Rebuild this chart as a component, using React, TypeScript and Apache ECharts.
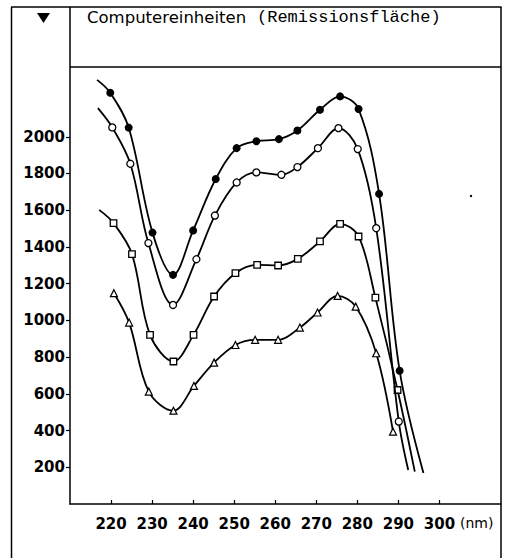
import React, { useEffect, useRef } from "react";
import * as echarts from "echarts";

// Wavelength (nm) and remission-area values
const filledNm = [219.8, 224.3, 230.1, 235.1, 240.0, 245.5, 250.6, 255.4, 260.9, 265.4, 270.9, 275.8, 280.3, 285.3, 290.3];
const filledVal = [2240, 2050, 1478, 1248, 1490, 1770, 1938, 1976, 1987, 2034, 2147, 2220, 2151, 1689, 726];
const filledStart = [216.6, 2310];
const filledEnd = [296.1, 169];

const circleNm = [220.3, 224.7, 229.1, 235.1, 240.8, 245.3, 250.6, 255.4, 261.5, 265.4, 270.4, 275.4, 280.1, 284.6, 290.1];
const circleVal = [2051, 1853, 1421, 1084, 1333, 1571, 1751, 1806, 1793, 1835, 1938, 2047, 1933, 1502, 449];
const circleStart = [216.8, 2156];
const circleEnd = [292.4, 185];

const squareNm = [220.6, 225.1, 229.5, 235.2, 240.1, 245.1, 250.3, 255.6, 260.7, 265.5, 270.9, 275.8, 280.3, 284.4, 289.8];
const squareVal = [1530, 1361, 921, 776, 921, 1130, 1257, 1302, 1299, 1335, 1430, 1526, 1457, 1124, 621];
const squareStart = [217.1, 1602];
const squareEnd = [294.0, 176];

const triangleNm = [220.7, 224.4, 229.2, 235.2, 240.2, 245.1, 250.3, 255.1, 260.7, 266.0, 270.3, 275.2, 279.6, 284.6, 288.7];
const triangleVal = [1148, 988, 612, 508, 643, 770, 866, 894, 894, 961, 1043, 1133, 1075, 821, 394];

const xTicks = [220, 230, 240, 250, 260, 270, 280, 290, 300];
const yTicks = [200, 400, 600, 800, 1000, 1200, 1400, 1600, 1800, 2000];

const titleMain = "Computereinheiten";
const titleMono = "(Remissionsfläche)";
const unitLabel = "(nm)";

function buildData(xs: number[], ys: number[], start?: number[], end?: number[]) {
  const d: any[] = xs.map((x, i) => ({ value: [x, ys[i]] }));
  if (start) d.unshift({ value: start, symbol: "none" });
  if (end) d.push({ value: end, symbol: "none" });
  return d;
}

export default function App() {
  const ref = useRef<HTMLDivElement>(null);
  useEffect(() => {
    if (!ref.current) return;
    const chart = echarts.init(ref.current, null, { renderer: "svg", width: 509, height: 558 });
    const lineStyle = { color: "#000", width: 1.8 };
    const stroke = { stroke: "#000", lineWidth: 1.5 };
    const labelFont = { color: "#000", fontFamily: "DejaVu Sans", fontSize: 15, fontWeight: "bold" as const };
    chart.setOption({
      animation: false,
      backgroundColor: "#fff",
      grid: { left: 70, right: 8, top: 67, bottom: 54, outerBoundsMode: "none", containLabel: false },
      xAxis: {
        type: "value",
        min: 210,
        max: 315,
        axisLine: { show: true, lineStyle: { color: "#000", width: 1.5 } },
        axisTick: { show: true, inside: true, length: 4, lineStyle: { color: "#000", width: 1.2 }, customValues: xTicks },
        axisLabel: { ...labelFont, margin: 12, customValues: xTicks, formatter: (v: number) => String(v) },
        splitLine: { show: false },
      },
      yAxis: {
        type: "value",
        min: 0,
        max: 2380,
        axisLine: { show: true, lineStyle: { color: "#000", width: 1.5 } },
        axisTick: { show: true, inside: false, length: 4, lineStyle: { color: "#000", width: 1.2 }, customValues: yTicks },
        axisLabel: { ...labelFont, margin: 5, customValues: yTicks, formatter: (v: number) => String(v) },
        splitLine: { show: false },
      },
      series: [
        {
          type: "line",
          smooth: 0.35,
          data: buildData(filledNm, filledVal, filledStart, filledEnd),
          symbol: "circle",
          symbolSize: 8,
          lineStyle,
          itemStyle: { color: "#000" },
          z: 4,
        },
        {
          type: "line",
          smooth: 0.35,
          data: buildData(circleNm, circleVal, circleStart, circleEnd),
          symbol: "circle",
          symbolSize: 7,
          lineStyle,
          itemStyle: { color: "#fff", borderColor: "#000", borderWidth: 1.3 },
          z: 3,
        },
        {
          type: "line",
          smooth: 0.35,
          data: buildData(squareNm, squareVal, squareStart, squareEnd),
          symbol: "rect",
          symbolSize: 6.5,
          lineStyle,
          itemStyle: { color: "#fff", borderColor: "#000", borderWidth: 1.3 },
          z: 2,
        },
        {
          type: "line",
          smooth: 0.35,
          data: buildData(triangleNm, triangleVal),
          symbol: "triangle",
          symbolSize: 7,
          lineStyle,
          itemStyle: { color: "#fff", borderColor: "#000", borderWidth: 1.2 },
          z: 1,
        },
      ],
      graphic: [
        { type: "line", shape: { x1: 11.5, y1: 7, x2: 11.5, y2: 558 }, style: stroke },
        { type: "line", shape: { x1: 11, y1: 7, x2: 501.5, y2: 7 }, style: stroke },
        { type: "line", shape: { x1: 501, y1: 7, x2: 501, y2: 558 }, style: stroke },
        { type: "line", shape: { x1: 70, y1: 7, x2: 70, y2: 67 }, style: stroke },
        { type: "line", shape: { x1: 70, y1: 67, x2: 501, y2: 67 }, style: stroke },
        { type: "polygon", shape: { points: [[37, 13], [50, 13], [43.5, 23]] }, style: { fill: "#000" } },
        {
          type: "text",
          x: 87,
          y: 17,
          style: { text: titleMain, fill: "#000", font: '500 16.5px "DejaVu Sans"', verticalAlign: "middle", textAlign: "left" },
        },
        {
          type: "text",
          x: 257,
          y: 17,
          style: { text: titleMono, fill: "#000", font: '17px "Liberation Mono"', verticalAlign: "middle", textAlign: "left" },
        },
        {
          type: "text",
          x: 460,
          y: 523,
          style: { text: unitLabel, fill: "#000", font: '14px "DejaVu Sans"', verticalAlign: "middle", textAlign: "left" },
        },
        { type: "circle", shape: { cx: 471, cy: 196, r: 1.2 }, style: { fill: "#000" } },
      ],
    });
    return () => chart.dispose();
  }, []);
  return <div ref={ref} style={{ position: "absolute", left: 0, top: 0, width: 509, height: 558 }} />;
}
